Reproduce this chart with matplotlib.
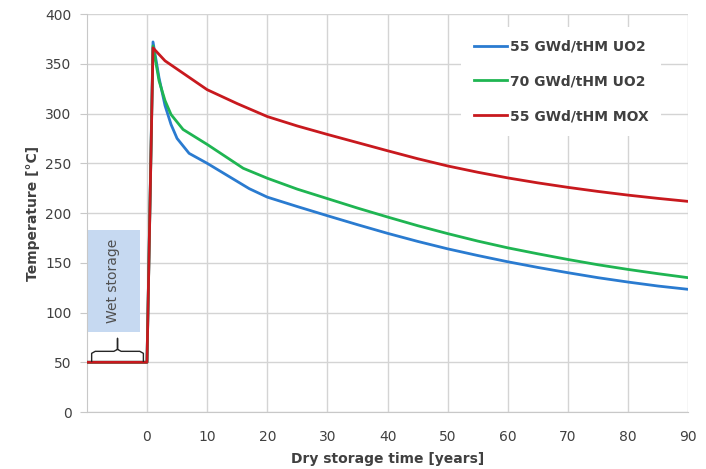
import numpy as np
import matplotlib
matplotlib.use("Agg")
import matplotlib.pyplot as plt
from matplotlib.patches import Rectangle

# --- data ----------------------------------------------------------------
uo2_55_years = [-10, 0, 1, 2, 3, 4, 5, 7, 10, 17, 20, 25, 30, 35, 40, 45, 50, 55,
                60, 65, 70, 75, 80, 85, 90]
uo2_55_temp = [50, 50, 372, 336, 308, 289, 275, 260, 250, 224.5, 216, 206.5, 197.3, 188.3,
               179.6, 171.5, 164, 157.3, 151, 145.3, 140, 135, 130.6, 126.6, 123.3]

uo2_70_years = [-10, 0, 1, 2, 3, 4, 6, 10, 16, 20, 25, 30, 35, 40, 45, 50, 55,
                60, 65, 70, 75, 80, 85, 90]
uo2_70_temp = [50, 50, 368, 333, 313, 299, 284, 269, 245, 235, 224, 214.5, 205, 196,
               187.3, 179.3, 171.8, 165, 159, 153.3, 148, 143.3, 139, 135]

mox_55_years = [-10, 0, 1, 3, 10, 15, 20, 25, 30, 35, 40, 45, 50, 55,
                60, 65, 70, 75, 80, 85, 90]
mox_55_temp = [50, 50, 366, 353, 324, 310, 297, 287.5, 279, 270.8, 262.6, 254.6, 247.3, 241,
               235.3, 230.3, 225.8, 221.7, 218, 214.7, 211.7]

series_labels = ["55 GWd/tHM UO2", "70 GWd/tHM UO2", "55 GWd/tHM MOX"]
series_colors = ["#2a7bd0", "#1fb552", "#c8191e"]

x_ticks = list(range(0, 91, 10))
y_ticks = list(range(0, 401, 50))

# wet storage box / brace (annotation, data units)
wet_box = (-10, 80, 8.8, 103)      # x, y, width, height
brace_x = (-9.2, -0.6)
brace_y = 50

fig = plt.figure(figsize=(7.06, 4.69), dpi=100)
ax = fig.add_axes([0.123, 0.1215, 0.852, 0.8485])

xs = [uo2_55_years, uo2_70_years, mox_55_years]
ys = [uo2_55_temp, uo2_70_temp, mox_55_temp]
for x, y, lab, c in zip(xs, ys, series_labels, series_colors):
    ax.plot(x, y, color=c, lw=2.0, label=lab, solid_joinstyle="round", zorder=3)

# wet storage shading and label
ax.add_patch(Rectangle(wet_box[:2], wet_box[2], wet_box[3],
                       facecolor="#c6d9f1", edgecolor="none", zorder=2))
ax.text(wet_box[0] + wet_box[2] / 2, wet_box[1] + wet_box[3] / 2, "Wet storage",
        rotation=90, ha="center", va="center", fontsize=10, color="#505050", zorder=4)

# curly brace drawn as a polyline
x0, x1 = brace_x
xm = (x0 + x1) / 2
r = 0.6
bx = [x0, x0, x0 + r, xm - r, xm, xm, xm, xm + r, x1 - r, x1, x1]
by = [brace_y + 1, brace_y + 9, brace_y + 11, brace_y + 11, brace_y + 13, brace_y + 24,
      brace_y + 13, brace_y + 11, brace_y + 11, brace_y + 9, brace_y + 1]
ax.plot(bx, by, color="#262626", lw=1.0, zorder=4)

ax.set_xlim(-10, 90)
ax.set_ylim(0, 400)
ax.set_xticks(x_ticks)
ax.set_yticks(y_ticks)
ax.grid(True, color="#d4d4d4", lw=1.0, zorder=0)
ax.set_axisbelow(True)
for s in ["top", "right"]:
    ax.spines[s].set_visible(False)
for s in ["left", "bottom"]:
    ax.spines[s].set_color("#c8c8c8")
ax.tick_params(axis="x", length=0, pad=13, labelsize=10, labelcolor="#404040")
ax.tick_params(axis="y", length=5, color="#c8c8c8", pad=6, labelsize=10, labelcolor="#404040")

ax.set_xlabel("Dry storage time [years]", fontsize=10, fontweight="bold", color="#404040", labelpad=6)
ax.set_ylabel("Temperature [°C]", fontsize=10, fontweight="bold", color="#404040", labelpad=4)

leg = ax.legend(loc="upper right", bbox_to_anchor=(0.966, 0.985), frameon=True,
                prop={"size": 10, "weight": "bold"},
                labelspacing=1.5, handlelength=2.4, handletextpad=0.2, borderpad=0.9)
leg.get_frame().set_edgecolor("none")
leg.get_frame().set_facecolor("white")
leg.get_frame().set_alpha(1)
for t in leg.get_texts():
    t.set_color("#404040")

fig.savefig("out.png", dpi=100)
